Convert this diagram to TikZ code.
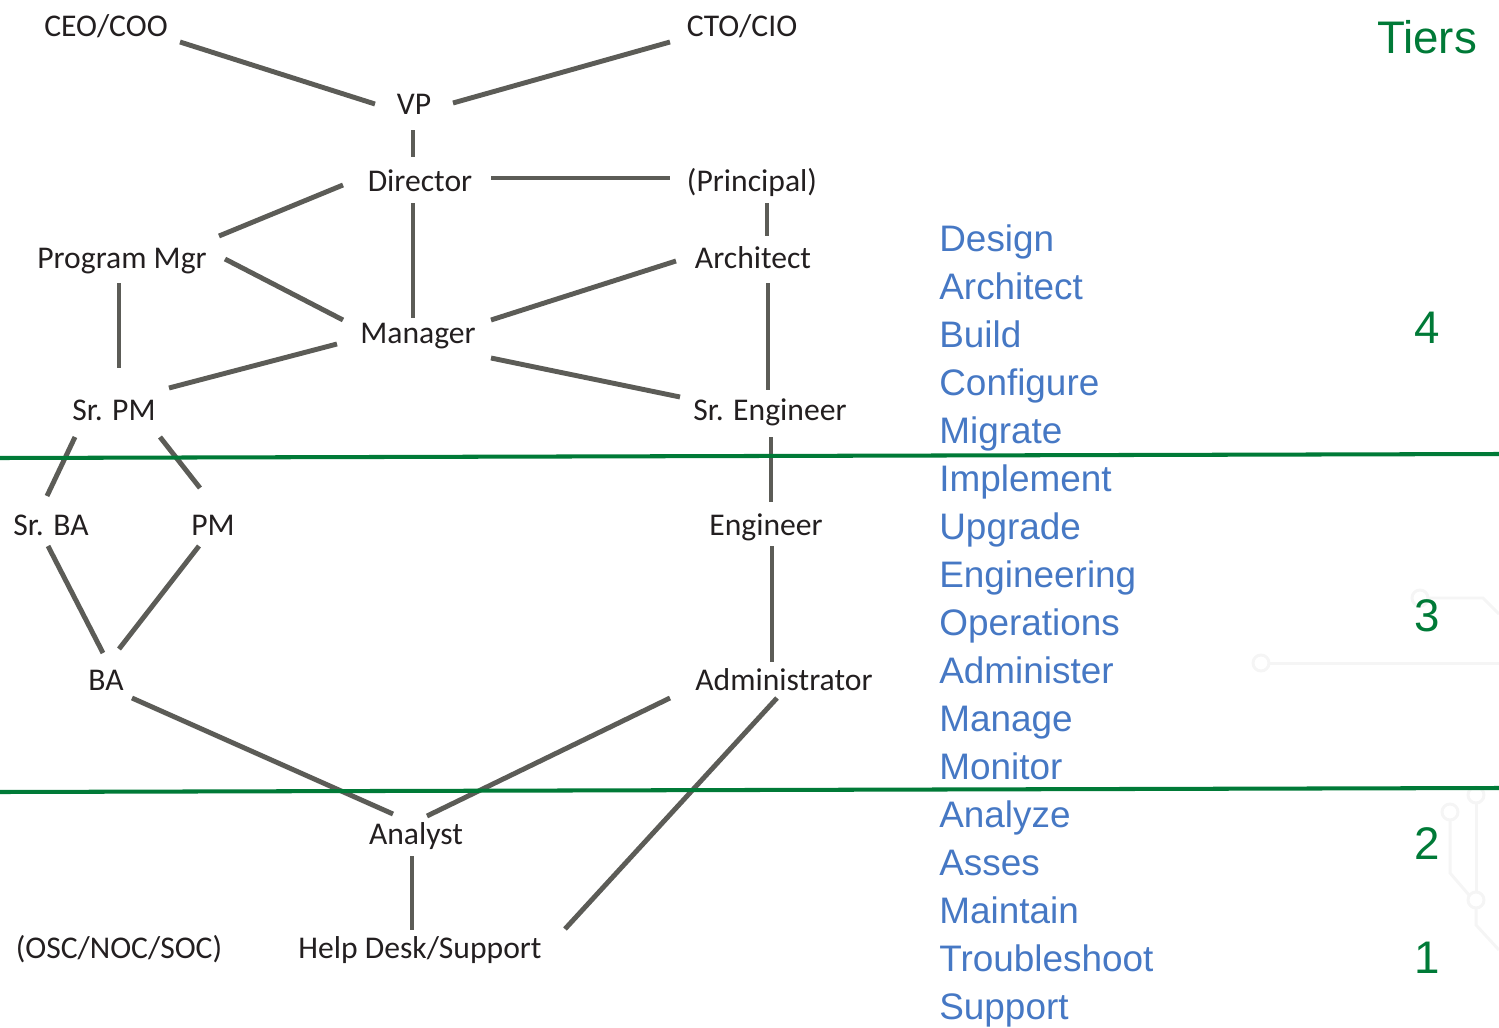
\documentclass[tikz,border=0pt]{standalone}
\usepackage{fontspec}
\setmainfont{Carlito}
\newfontfamily\helvfont{Liberation Sans}
\definecolor{linkgray}{RGB}{92,92,87}
\definecolor{tiergreen}{RGB}{0,122,55}
\definecolor{dutyblue}{RGB}{70,120,196}
\definecolor{roletext}{RGB}{35,31,32}
\definecolor{tracegray}{RGB}{245,245,245}

\tikzset{
  role/.style={anchor=base, inner sep=0pt, text=roletext, font=\fontsize{18}{21}\selectfont},
  duty/.style={anchor=base west, inner sep=0pt, text=dutyblue, font=\helvfont\fontsize{21}{25}\selectfont},
  tier/.style={anchor=base, inner sep=0pt, text=tiergreen, font=\helvfont\fontsize{26}{30}\selectfont},
  link/.style={draw=linkgray, line width=2.8pt},
  tierline/.style={draw=tiergreen, line width=2.3pt},
  trace/.style={draw=tracegray, line width=1.7pt}
}

\begin{document}
\begin{tikzpicture}[x=0.02cm, y=-0.02cm]
 \useasboundingbox (0,0) rectangle (1499,1028);

% faint circuit traces in the background
 \draw[trace] (1261,663) circle[radius=0.16cm];
 \draw[trace] (1269,663) -- (1499,663);
 \draw[trace] (1420,598) circle[radius=0.16cm];
 \draw[trace] (1428,598) -- (1483,598) -- (1499,614);
 \draw[trace] (1476,795) circle[radius=0.16cm];
 \draw[trace] (1476,803) -- (1476,892);
 \draw[trace] (1450,812) circle[radius=0.16cm];
 \draw[trace] (1450,820) -- (1450,873) -- (1469,895);
 \draw[trace] (1476,900) circle[radius=0.16cm];
 \draw[trace] (1476,908) -- (1476,925) -- (1499,950);

% roles
 \node[role] (ceo) at (106,36) {CEO/COO};
 \node[role] (cto) at (742,36) {CTO/CIO};
 \node[role] (vp) at (414,114) {VP};
 \node[role] (dir) at (420,191) {Director};
 \node[role] (prin) at (752,191) {(Principal)};
 \node[role] (pgm) at (122,268) {Program Mgr};
 \node[role] (arch) at (753,268) {Architect};
 \node[role] (mgr) at (418,343) {Manager};
 \node[role] (spm) at (114,420) {Sr. PM};
 \node[role] (seng) at (770,420) {Sr. Engineer};
 \node[role] (sba) at (51,535) {Sr. BA};
 \node[role] (pm) at (213,535) {PM};
 \node[role] (eng) at (766,535) {Engineer};
 \node[role] (ba) at (106,690) {BA};
 \node[role] (admin) at (784,690) {Administrator};
 \node[role] (analyst) at (416,844) {Analyst};
 \node[role] (osc) at (119,958) {(OSC/NOC/SOC)};
 \node[role] (help) at (420,958) {Help Desk/Support};

% top of the ladder
 \draw[link] ([shift={(74,6)}]ceo.base) -- ([shift={(-39,-10)}]vp.base);
 \draw[link] ([shift={(-72,6)}]cto.base) -- ([shift={(39,-11)}]vp.base);
 \draw[link] ([shift={(-1,16)}]vp.base) -- ([shift={(-7,-34)}]dir.base);
 \draw[link] ([shift={(71,-13)}]dir.base) -- ([shift={(-82,-13)}]prin.base);
 \draw[link] ([shift={(-77,-6)}]dir.base) -- ([shift={(97,-32)}]pgm.base);
 \draw[link] ([shift={(-7,12)}]dir.base) -- ([shift={(-5,-25)}]mgr.base);
 \draw[link] ([shift={(15,12)}]prin.base) -- ([shift={(14,-32)}]arch.base);

% middle
 \draw[link] ([shift={(103,-9)}]pgm.base) -- ([shift={(-75,-23)}]mgr.base);
 \draw[link] ([shift={(-3,15)}]pgm.base) -- ([shift={(5,-52)}]spm.base);
 \draw[link] ([shift={(-77,-7)}]arch.base) -- ([shift={(73,-23)}]mgr.base);
 \draw[link] ([shift={(15,15)}]arch.base) -- ([shift={(-2,-30)}]seng.base);
 \draw[link] ([shift={(-81,1)}]mgr.base) -- ([shift={(55,-32)}]spm.base);
 \draw[link] ([shift={(73,15)}]mgr.base) -- ([shift={(-90,-23)}]seng.base);

% PM / BA branch
 \draw[link] ([shift={(-39,17)}]spm.base) -- ([shift={(-4,-39)}]sba.base);
 \draw[link] ([shift={(46,17)}]spm.base) -- ([shift={(-13,-47)}]pm.base);
 \draw[link] ([shift={(-3,11)}]sba.base) -- ([shift={(-3,-37)}]ba.base);
 \draw[link] ([shift={(-14,11)}]pm.base) -- ([shift={(13,-41)}]ba.base);

% engineering branch
 \draw[link] ([shift={(1,17)}]seng.base) -- ([shift={(5,-33)}]eng.base);
 \draw[link] ([shift={(6,11)}]eng.base) -- ([shift={(-12,-28)}]admin.base);

% bottom
 \draw[link] ([shift={(26,8)}]ba.base) -- ([shift={(-23,-30)}]analyst.base);
 \draw[link] ([shift={(-114,8)}]admin.base) -- ([shift={(11,-28)}]analyst.base);
 \draw[link] ([shift={(-4,12)}]analyst.base) -- ([shift={(-8,-28)}]help.base);
 \draw[link] ([shift={(-7,8)}]admin.base) -- ([shift={(145,-29)}]help.base);

% tier borders
 \draw[tierline] (0,458) -- (1499,454);
 \draw[tierline] (0,792) -- (1499,788);

% duties and tiers
 \foreach \word [count=\i from 0] in {Design,Architect,Build,Configure,Migrate,Implement,Upgrade,Engineering,Operations,Administer,Manage,Monitor,Analyze,Asses,Maintain,Troubleshoot,Support}
  \node[duty] (duty\i) at (939,251+48*\i) {\word};

 \node[tier] (tiers) at (1427,53) {Tiers};
 \node[tier] (t4) at (1427,343) {4};
 \node[tier] (t3) at (1427,631) {3};
 \node[tier] (t2) at (1427,859) {2};
 \node[tier] (t1) at (1427,973) {1};

\end{tikzpicture}
\end{document}
